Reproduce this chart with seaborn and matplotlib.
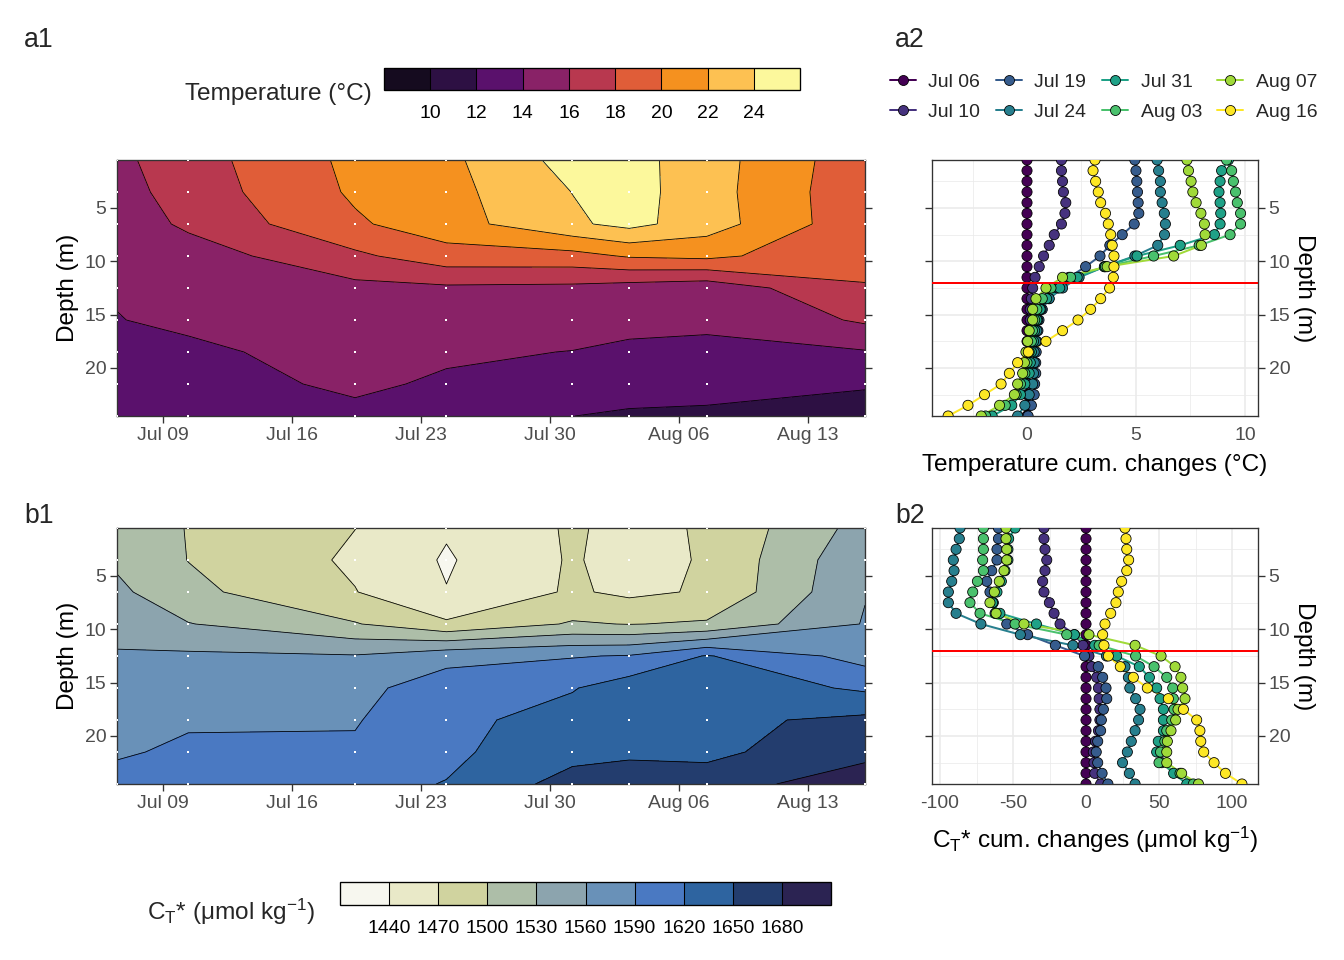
import numpy as np
import pandas as pd
import matplotlib
matplotlib.use("Agg")
import matplotlib.pyplot as plt
import matplotlib.dates as mdates
from matplotlib.lines import Line2D
from matplotlib.ticker import MultipleLocator, FixedLocator
import seaborn as sns

# ---- data -------------------------------------------------------------
cast_dates = pd.to_datetime([
    "2021-07-06 12:00", "2021-07-10 09:00", "2021-07-19 10:00", "2021-07-24 09:00",
    "2021-07-31 05:00", "2021-08-03 07:00", "2021-08-07 12:00", "2021-08-16 02:00",
])
tick_dates = pd.to_datetime(["2021-07-09", "2021-07-16", "2021-07-23",
                             "2021-07-30", "2021-08-06", "2021-08-13"])

# depths of the gridded sections (white dots)
grid_depths = [0.5, 3.5, 6.5, 9.5, 12.5, 15.5, 18.5, 21.5, 24.5]
# depths of the 1 m profiles
profile_depths = [0.5, 1.5, 2.5, 3.5, 4.5, 5.5, 6.5, 7.5, 8.5, 9.5, 10.5, 11.5, 12.5,
                  13.5, 14.5, 15.5, 16.5, 17.5, 18.5, 19.5, 20.5, 21.5, 22.5, 23.5, 24.5]

# temperature section (deg C), one row per cast, columns = grid_depths
temp_grid = [
    [15.55, 15.22, 14.80, 14.25, 14.04, 13.985, 13.80, 13.62, 13.50],  # Jul 06
    [17.13, 16.89, 16.38, 15.01, 14.30, 14.10, 13.90, 13.67, 13.50],   # Jul 10
    [20.50, 20.29, 19.72, 17.60, 15.44, 14.50, 14.20, 14.15, 13.80],   # Jul 19
    [21.52, 21.34, 21.15, 19.20, 15.67, 14.44, 14.13, 13.88, 13.07],   # Jul 24
    [24.79, 24.03, 23.66, 19.30, 15.54, 14.40, 13.98, 13.52, 12.02],   # Jul 31
    [24.71, 24.79, 24.60, 20.20, 15.14, 14.30, 13.80, 13.32, 11.60],   # Aug 03
    [22.89, 22.83, 22.94, 20.50, 14.70, 14.21, 13.75, 13.19, 11.40],   # Aug 07
    [18.67, 18.49, 18.53, 18.24, 17.95, 16.29, 13.86, 12.43, 10.05],   # Aug 16
]

# CT* section (umol/kg)
ct_grid = [
    [1515.0, 1525.0, 1536.5, 1549.0, 1563.0, 1573.0, 1581.0, 1588.0, 1596.0],  # Jul 06
    [1499.0, 1499.4, 1507.7, 1531.2, 1565.0, 1581.5, 1588.0, 1593.0, 1606.0],  # Jul 10
    [1470.3, 1465.2, 1471.0, 1502.0, 1562.0, 1581.0, 1588.0, 1594.0, 1612.0],  # Jul 19
    [1443.0, 1437.0, 1441.0, 1474.5, 1580.0, 1606.0, 1612.0, 1614.0, 1621.0],  # Jul 24
    [1473.5, 1473.0, 1474.0, 1503.0, 1588.0, 1618.0, 1632.0, 1640.0, 1662.0],  # Jul 31
    [1461.4, 1458.0, 1463.5, 1499.0, 1592.0, 1636.0, 1640.0, 1646.0, 1662.0],  # Aug 03
    [1473.0, 1473.0, 1473.5, 1503.6, 1622.0, 1640.0, 1643.0, 1644.0, 1662.0],  # Aug 07
    [1541.7, 1554.2, 1558.6, 1562.0, 1578.3, 1615.0, 1656.8, 1668.6, 1702.8],  # Aug 16
]

# cumulative temperature change profiles (deg C), columns = profile_depths
temp_change = [
    [0.0] * 25,  # Jul 06
    [1.58, 1.58, 1.63, 1.67, 1.78, 1.74, 1.58, 1.25, 1.02, 0.76, 0.56, 0.37, 0.26,
     0.20, 0.15, 0.15, 0.12, 0.10, 0.10, 0.08, 0.06, 0.05, 0.05, 0.02, 0.00],
    [4.95, 5.00, 5.04, 5.07, 5.10, 5.13, 4.92, 4.37, 3.80, 3.35, 2.69, 1.93, 1.40,
     1.00, 0.70, 0.55, 0.50, 0.45, 0.42, 0.40, 0.40, 0.35, 0.33, 0.20, 0.05],
    [5.97, 6.04, 6.12, 6.12, 6.20, 6.30, 6.35, 6.31, 6.00, 4.95, 3.56, 2.39, 1.63,
     1.02, 0.64, 0.49, 0.45, 0.41, 0.33, 0.33, 0.30, 0.26, 0.10, -0.10, -0.43],
    [9.24, 8.93, 8.86, 8.81, 8.86, 8.89, 8.86, 8.60, 7.03, 5.05, 3.55, 2.30, 1.50,
     0.90, 0.60, 0.45, 0.35, 0.30, 0.20, 0.15, 0.10, -0.10, -0.30, -0.70, -1.60],
    [9.16, 9.39, 9.47, 9.57, 9.65, 9.80, 9.80, 9.32, 7.90, 5.81, 3.60, 2.00, 1.10,
     0.70, 0.45, 0.35, 0.25, 0.20, 0.10, 0.00, -0.10, -0.30, -0.50, -1.00, -1.90],
    [7.34, 7.41, 7.53, 7.61, 7.76, 7.98, 8.14, 8.17, 8.00, 6.73, 3.68, 1.63, 0.87,
     0.41, 0.26, 0.26, 0.10, 0.03, -0.05, -0.12, -0.20, -0.43, -0.58, -1.26, -2.10],
    [3.12, 3.03, 3.15, 3.27, 3.38, 3.60, 3.73, 3.84, 3.91, 3.99, 3.99, 3.96, 3.79,
     3.38, 2.92, 2.34, 1.63, 0.87, 0.06, -0.43, -0.81, -1.19, -1.95, -2.71, -3.62],
]

# cumulative CT* change profiles (umol/kg)
ct_change = [
    [0.0] * 25,  # Jul 06
    [-28.8, -28.8, -28.1, -26.9, -28.1, -29.7, -28.8, -25.1, -21.9, -17.8, -8.0, -2.0, 2.0,
     3.9, 7.3, 8.5, 9.0, 9.5, 9.5, 8.5, 6.5, 5.0, 5.5, 6.0, 10.0],
    [-60.0, -60.0, -61.0, -61.0, -64.6, -68.0, -65.8, -63.5, -62.3, -54.3, -40.0, -21.0, -1.0,
     8.4, 11.4, 13.7, 14.2, 11.9, 10.5, 10.0, 8.0, 7.0, 8.0, 11.0, 15.0],
    [-86.3, -86.8, -89.0, -90.9, -90.4, -92.0, -94.3, -94.3, -89.0, -72.0, -45.0, -9.0, 14.0,
     26.7, 29.0, 30.0, 34.0, 37.0, 36.0, 33.6, 31.0, 28.3, 25.0, 29.7, 33.6],
    [-48.6, -53.0, -53.5, -53.5, -55.5, -58.0, -61.0, -64.0, -59.0, -34.0, -8.0, 6.0, 21.0,
     36.5, 43.4, 48.4, 50.7, 53.0, 53.0, 53.0, 49.5, 48.4, 51.8, 60.0, 69.0],
    [-70.3, -70.3, -70.3, -70.8, -70.3, -74.4, -77.6, -79.5, -72.6, -48.6, -13.2, 9.0, 34.0,
     46.6, 55.3, 59.4, 59.8, 60.3, 58.7, 55.3, 54.0, 51.0, 50.0, 64.4, 73.5],
    [-54.8, -54.8, -54.3, -54.3, -56.2, -59.4, -62.8, -65.8, -61.6, -42.5, 2.0, 33.6, 51.4,
     61.0, 65.0, 66.2, 67.8, 63.0, 61.4, 58.2, 55.7, 55.3, 55.3, 65.5, 77.0],
    [26.7, 27.4, 27.9, 29.2, 27.9, 24.4, 22.1, 20.5, 16.9, 13.0, 11.4, 12.3, 15.3,
     23.5, 32.4, 42.0, 56.4, 66.7, 75.8, 78.0, 78.6, 80.6, 87.7, 95.5, 106.8],
]

temp_levels = [8, 10, 12, 14, 16, 18, 20, 22, 24, 26]
temp_colors = ["#150b1f", "#2d1043", "#5a116c", "#892267", "#b8384f",
               "#e05d38", "#f5911f", "#fdc152", "#fcf89c"]
ct_levels = [1410, 1440, 1470, 1500, 1530, 1560, 1590, 1620, 1650, 1680, 1710]
ct_colors = ["#f7f7ef", "#e9e9c8", "#d0d39f", "#adbea8", "#8ca4ae",
             "#6991b8", "#4a79c2", "#2e64a0", "#233d6e", "#2b2352"]

# ---- style ------------------------------------------------------------
sns.set_theme(style="white")
plt.rcParams["font.family"] = ["Liberation Sans", "DejaVu Sans"]
plt.rcParams["mathtext.fontset"] = "custom"
plt.rcParams["mathtext.rm"] = "Liberation Sans"
plt.rcParams["mathtext.it"] = "Liberation Sans:italic"
plt.rcParams["axes.unicode_minus"] = False
plt.rcParams["axes.edgecolor"] = "#333333"
plt.rcParams["axes.linewidth"] = 1.0

TICK = 14.5
TITLE = 18.3
GREY = "#4d4d4d"

labels = [d.strftime("%b %d") for d in cast_dates]
pal = dict(zip(labels, [matplotlib.colormaps["viridis"](v) for v in np.linspace(0, 1, len(labels))]))

rows = []
for lab, dts, dcs in zip(labels, temp_change, ct_change):
    for z, a, b in zip(profile_depths, dts, dcs):
        rows.append({"date": lab, "depth": z, "dtemp": a, "dct": b})
prof = pd.DataFrame(rows)

W, H = 1344, 960
fig = plt.figure(figsize=(W / 96, H / 96), dpi=96)


def box(x0, y0, x1, y1):
    return [x0 / W, 1 - y1 / H, (x1 - x0) / W, (y1 - y0) / H]


def style_axis(ax):
    for s in ax.spines.values():
        s.set_color("#333333")
        s.set_linewidth(1.0)
    ax.tick_params(which="major", direction="out", length=5, width=1.0, color="#333333",
                   labelsize=TICK, labelcolor=GREY, pad=3)


def contour_panel(ax, grid, levels, colors):
    xnum = mdates.date2num(cast_dates)
    z = np.array(grid).T
    cf = ax.contourf(xnum, grid_depths, z, levels=levels, colors=colors)
    ax.contour(xnum, grid_depths, z, levels=levels, colors="black", linewidths=0.6)
    xx, yy = np.meshgrid(xnum, grid_depths)
    ax.scatter(xx.ravel(), yy.ravel(), s=4, c="white", marker="s", linewidths=0, zorder=3)
    ax.set_xlim(xnum[0], xnum[-1])
    ax.set_ylim(24.5, 0.5)
    ax.xaxis.set_major_locator(FixedLocator(mdates.date2num(tick_dates)))
    ax.xaxis.set_major_formatter(mdates.DateFormatter("%b %d"))
    ax.set_yticks([5, 10, 15, 20])
    style_axis(ax)
    ax.tick_params(left=True, right=True, bottom=True, labelright=False)
    ax.set_ylabel("Depth (m)", fontsize=TITLE, color="black")
    ax.set_xlabel("")
    return cf


def profile_panel(ax, col, xlim, major, minor, xlabel, xpad):
    ax.set_axisbelow(True)
    ax.xaxis.set_major_locator(MultipleLocator(major))
    ax.xaxis.set_minor_locator(MultipleLocator(minor))
    ax.yaxis.set_major_locator(FixedLocator([5, 10, 15, 20]))
    ax.yaxis.set_minor_locator(FixedLocator([2.5, 7.5, 12.5, 17.5, 22.5]))
    ax.grid(True, which="major", color="#ebebeb", linewidth=1.2)
    ax.grid(True, which="minor", color="#ebebeb", linewidth=0.6)
    sns.lineplot(data=prof, x=col, y="depth", hue="date", hue_order=labels, palette=pal,
                 orient="y", estimator=None, linewidth=1.5, legend=False, ax=ax, zorder=2)
    sns.scatterplot(data=prof, x=col, y="depth", hue="date", hue_order=labels, palette=pal,
                    s=58, edgecolor="black", linewidth=0.6, legend=False, ax=ax, zorder=3)
    ax.axhline(12, color="red", linewidth=1.5, zorder=4)
    ax.set_xlim(*xlim)
    ax.set_ylim(24.5, 0.5)
    style_axis(ax)
    ax.tick_params(which="minor", length=0)
    ax.tick_params(left=True, right=True, labelleft=False, labelright=True)
    ax.yaxis.set_label_position("right")
    ax.set_ylabel("Depth (m)", fontsize=TITLE, color="black", rotation=270,
                  labelpad=2, va="bottom")
    ax.set_xlabel(xlabel, fontsize=TITLE, color="black", labelpad=xpad)


ax_a1 = fig.add_axes(box(117, 160, 865, 416))
ax_a2 = fig.add_axes(box(932, 160, 1258, 416))
ax_b1 = fig.add_axes(box(117, 528, 865, 784))
ax_b2 = fig.add_axes(box(932, 528, 1258, 784))

cf_t = contour_panel(ax_a1, temp_grid, temp_levels, temp_colors)
cf_c = contour_panel(ax_b1, ct_grid, ct_levels, ct_colors)

profile_panel(ax_a2, "dtemp", (-4.36, 10.6), 5, 2.5, "Temperature cum. changes (°C)", 8)
profile_panel(ax_b2, "dct", (-105.5, 117.8), 50, 25,
              r"C$_{\mathregular{T}}$* cum. changes (μmol kg$^{\mathregular{-1}}$)", 10)

# colour bars
cax_t = fig.add_axes(box(384, 68, 800, 90))
cb_t = fig.colorbar(cf_t, cax=cax_t, orientation="horizontal",
                    ticks=[10, 12, 14, 16, 18, 20, 22, 24], drawedges=True)
cax_c = fig.add_axes(box(340, 882, 831, 905))
cb_c = fig.colorbar(cf_c, cax=cax_c, orientation="horizontal",
                    ticks=[1440, 1470, 1500, 1530, 1560, 1590, 1620, 1650, 1680], drawedges=True)
for cb in (cb_t, cb_c):
    cb.outline.set_edgecolor("black")
    cb.outline.set_linewidth(1.0)
    cb.dividers.set_color("black")
    cb.dividers.set_linewidth(0.8)
    cb.ax.tick_params(length=0, labelsize=TICK, labelcolor="black", pad=11)

fig.text(372 / W, 1 - 94 / H, "Temperature (°C)", ha="right", va="center", fontsize=TITLE)
fig.text(315 / W, 1 - 912 / H, r"C$_{\mathregular{T}}$* (μmol kg$^{\mathregular{-1}}$)",
         ha="right", va="center", fontsize=TITLE)

# legend for the profiles
handles = [Line2D([0], [0], color=pal[l], marker="o", markersize=7.5, markeredgecolor="black",
                  markeredgewidth=0.6, linewidth=1.5) for l in labels]
fig.legend(handles, labels, ncol=4, loc="upper left", bbox_to_anchor=(882 / W, 1 - 66 / H),
           frameon=False, fontsize=TICK, handlelength=1.35, handletextpad=0.65,
           columnspacing=0.8, labelspacing=0.62, borderaxespad=0, borderpad=0.4)

# panel tags
for tag, x, y in [("a1", 24, 40), ("a2", 895, 40), ("b1", 24, 516), ("b2", 895, 516)]:
    fig.text(x / W, 1 - y / H, tag, ha="left", va="center", fontsize=20)

fig.savefig("out.png", dpi=96)
